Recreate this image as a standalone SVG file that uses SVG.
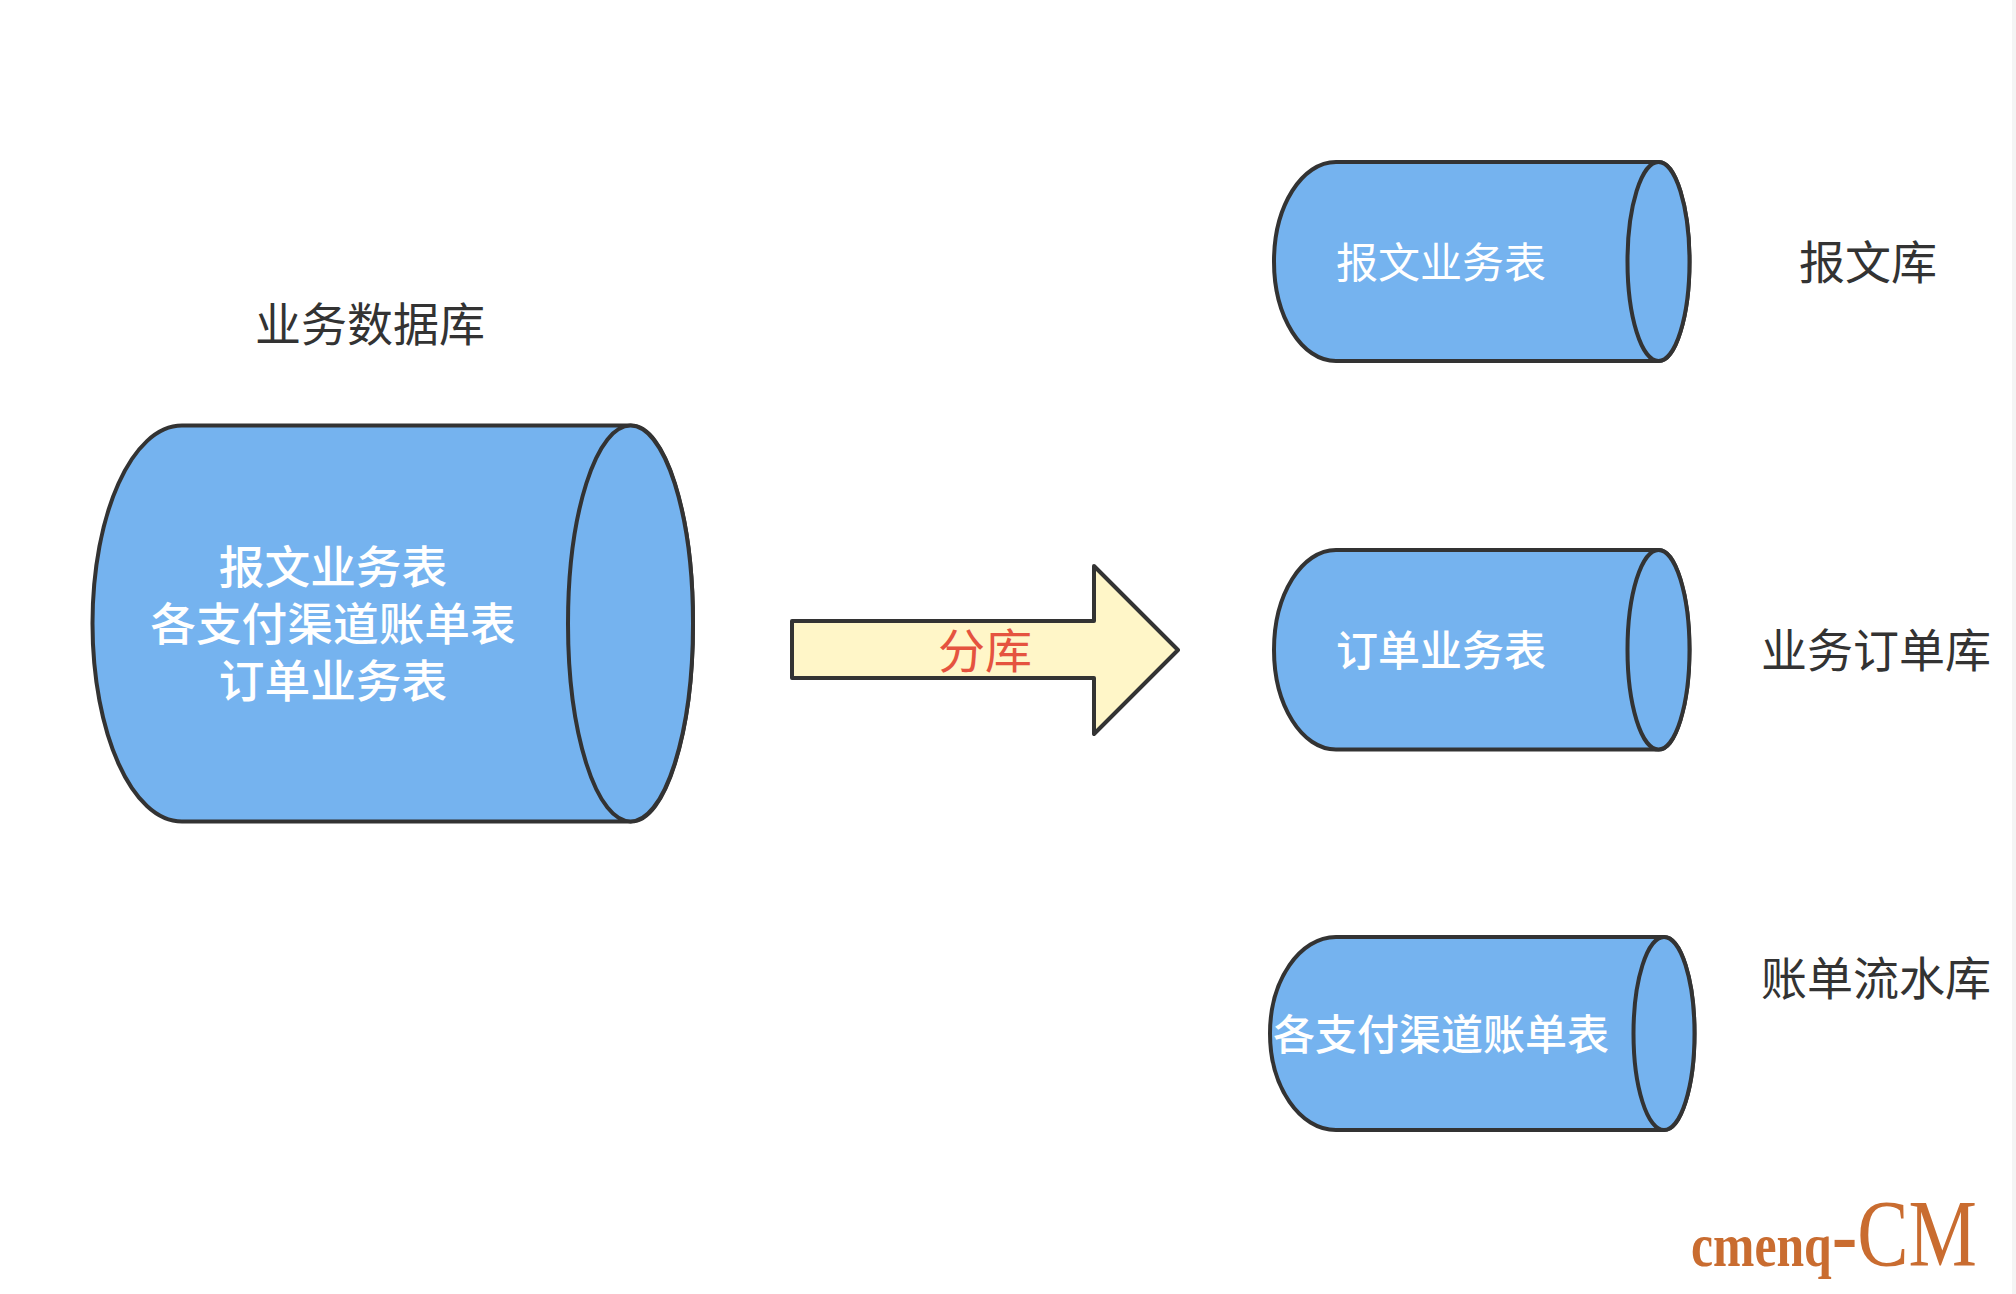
<svg xmlns="http://www.w3.org/2000/svg" width="2016" height="1294" viewBox="0 0 2016 1294">
<style>
.cyl{fill:#75b3ef;stroke:#333;stroke-width:4;stroke-linejoin:round}
text{font-family:"Noto Sans CJK SC","Noto Sans",sans-serif;text-anchor:middle;dominant-baseline:central}
.w{fill:#fff;font-size:42px}
.wb{fill:#fff;font-size:45.7px;font-weight:500}
.l{fill:#333;font-size:46px}
.wm{fill:#c96c30;font-family:"Liberation Serif",serif;dominant-baseline:auto;text-anchor:start}
</style>
<rect width="2016" height="1294" fill="#fff"/>
<rect x="2012" y="0" width="4" height="1294" fill="#f4f4f4"/>
<g id="source-db">
<path class="cyl" d="M631 425.6H182C132 425.6 92.500 514 92.500 623.500S132 821.500 182 821.500H631C665.500 821.500 693 733 693 623.500S665.500 425.600 631 425.600Z"/>
<ellipse class="cyl" cx="630.500" cy="623.500" rx="62.500" ry="198"/>
<text class="wb"><tspan x="333" y="564">报文业务表</tspan><tspan x="333" y="621">各支付渠道账单表</tspan><tspan x="333" y="678">订单业务表</tspan></text>
</g>
<text id="label-source" class="l" x="370" y="321">业务数据库</text>
<g id="db-message">
<path class="cyl" d="M1659 162H1336C1302 162 1274 206 1274 261.500S1302 361 1336 361H1659C1675.500 361 1689.500 316 1689.500 261.500S1675.500 162 1659 162Z"/>
<ellipse class="cyl" cx="1658.500" cy="261.500" rx="31" ry="99.500"/>
<text class="w" x="1441" y="259">报文业务表</text>
</g>
<text id="label-message" class="l" x="1868" y="259">报文库</text>
<g id="db-order">
<path class="cyl" d="M1659 550H1336C1302 550 1274 594 1274 649.750S1302 749.500 1336 749.500H1659C1675.500 749.500 1689.500 704 1689.500 649.750S1675.500 550 1659 550Z"/>
<ellipse class="cyl" cx="1658.500" cy="649.750" rx="31" ry="99.750"/>
<text class="w" x="1441" y="647" font-weight="500">订单业务表</text>
</g>
<text id="label-order" class="l" x="1876" y="647">业务订单库</text>
<g id="db-bill">
<path class="cyl" d="M1664 937H1336C1300 937 1270 980 1270 1033.500S1300 1130 1336 1130H1664C1681 1130 1694.500 1087 1694.500 1033.500S1681 937 1664 937Z"/>
<ellipse class="cyl" cx="1664" cy="1033.500" rx="30.500" ry="96.500"/>
<text class="w" x="1441" y="1031" font-weight="500">各支付渠道账单表</text>
</g>
<text id="label-bill" class="l" x="1876" y="975">账单流水库</text>
<g id="connectors">
<path d="M792 621H1094V566L1178 650L1094 734V678H792Z" fill="#fff6c8" stroke="#333" stroke-width="4" stroke-linejoin="round"/>
<text x="985" y="647" font-size="47" fill="#e5533f">分库</text>
</g>
<g id="watermark">
<text class="wm" x="1691" y="1266" textLength="286" lengthAdjust="spacingAndGlyphs"><tspan font-size="62" font-weight="700">cmenq</tspan><tspan font-size="96">-CM</tspan></text>
</g>
</svg>
